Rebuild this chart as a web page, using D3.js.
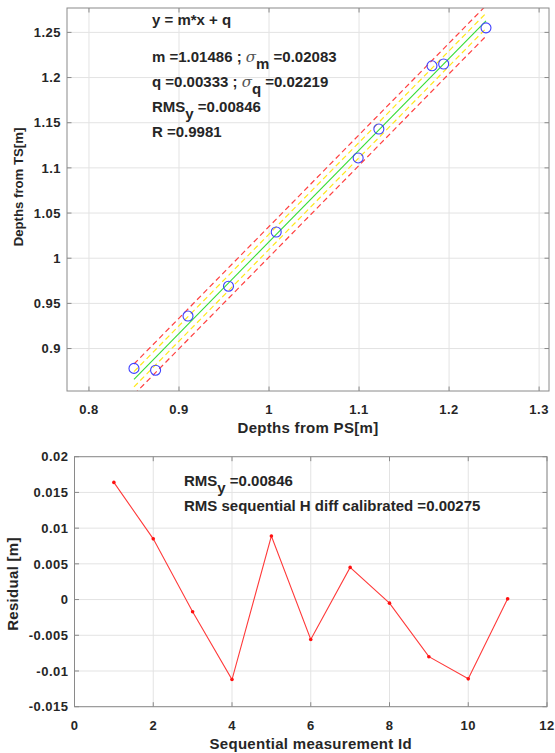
<!DOCTYPE html>
<html><head><meta charset="utf-8">
<script src="https://cdn.jsdelivr.net/npm/d3@7"></script>
<style>body{margin:0;background:#fff}svg{display:block}text{font-family:"Liberation Sans",Arial,sans-serif}</style>
</head><body>
<svg id="c" width="555" height="753"></svg>
<script>
// ---- data ----
const psDepths = [0.850, 0.874, 0.910, 0.955, 1.008, 1.099, 1.122, 1.181, 1.194, 1.241];
const tsDepths = [0.878, 0.876, 0.936, 0.969, 1.029, 1.111, 1.143, 1.213, 1.215, 1.255];
const fitM = 1.01486, fitQ = 0.00333, sigmaM = 0.02083, sigmaQ = 0.02219, rmsY = 0.00846, corrR = 0.9981;
const rmsSeq = 0.00275;
const measId = [1, 2, 3, 4, 5, 6, 7, 8, 9, 10, 11];
const residuals = [0.0164, 0.0085, -0.0017, -0.0112, 0.0089, -0.0056, 0.0045, -0.0005, -0.0080, -0.0111, 0.0001];
const topXTicks = [0.8, 0.9, 1.0, 1.1, 1.2, 1.3];
const topYTicks = [0.9, 0.95, 1.0, 1.05, 1.1, 1.15, 1.2, 1.25];
const botXTicks = [0, 2, 4, 6, 8, 10, 12];
const botYTicks = [-0.015, -0.01, -0.005, 0, 0.005, 0.01, 0.015, 0.02];

const svg = d3.select("#c");
const txtCol = "#262626", axCol = "#8a8a8a", gridCol = "#e3e3e3";
const fs = 13, fsAnn = 15, fsLab = 15;

function drawGrid(g, x, y, xt, yt, clipId) {
  const [x0, x1] = x.range(), [y0, y1] = y.range();
  g.append("g").selectAll("line").data(xt).join("line")
    .attr("x1", d => x(d)).attr("x2", d => x(d)).attr("y1", y0).attr("y2", y1)
    .attr("stroke", gridCol).attr("stroke-width", 1);
  g.append("g").selectAll("line").data(yt).join("line")
    .attr("x1", x0).attr("x2", x1).attr("y1", d => y(d)).attr("y2", d => y(d))
    .attr("stroke", gridCol).attr("stroke-width", 1);
  g.append("clipPath").attr("id", clipId).append("rect")
    .attr("x", x0).attr("y", y1).attr("width", x1 - x0).attr("height", y0 - y1);
}
function drawFrame(g, x, y, xt, yt, fmtX, fmtY) {
  const [x0, x1] = x.range(), [y0, y1] = y.range();
  const tl = 4.5;
  const fr = g.append("g");
  fr.append("rect").attr("x", x0).attr("y", y1).attr("width", x1 - x0).attr("height", y0 - y1)
    .attr("fill", "none").attr("stroke", axCol).attr("stroke-width", 1);
  xt.forEach(d => {
    fr.append("line").attr("x1", x(d)).attr("x2", x(d)).attr("y1", y0).attr("y2", y0 - tl).attr("stroke", axCol);
    fr.append("line").attr("x1", x(d)).attr("x2", x(d)).attr("y1", y1).attr("y2", y1 + tl).attr("stroke", axCol);
  });
  yt.forEach(d => {
    fr.append("line").attr("x1", x0).attr("x2", x0 + tl).attr("y1", y(d)).attr("y2", y(d)).attr("stroke", axCol);
    fr.append("line").attr("x1", x1).attr("x2", x1 - tl).attr("y1", y(d)).attr("y2", y(d)).attr("stroke", axCol);
  });
  g.append("g").selectAll("text").data(xt).join("text")
    .attr("x", d => x(d)).attr("y", y0 + 23).attr("text-anchor", "middle")
    .attr("font-size", fs).attr("letter-spacing", 0.5).attr("font-weight", "bold").attr("fill", txtCol).text(fmtX);
  g.append("g").selectAll("text").data(yt).join("text")
    .attr("x", x0 - 6).attr("y", d => y(d) + 4.7).attr("text-anchor", "end")
    .attr("font-size", fs).attr("letter-spacing", 0.5).attr("font-weight", "bold").attr("fill", txtCol).text(fmtY);
}
const fmt = d => String(+d.toFixed(4));

// ---- top plot ----
const xT = d3.scaleLinear().domain([0.7756, 1.311]).range([67, 549]);
const yT = d3.scaleLinear().domain([0.853, 1.277]).range([391, 8]);
const gT = svg.append("g");
drawGrid(gT, xT, yT, topXTicks, topYTicks, "clipT");
const xMin = d3.min(psDepths), xMax = d3.max(psDepths);
const fitLine = (off) => [[xMin, fitM * xMin + fitQ + off], [xMax, fitM * xMax + fitQ + off]];
const lineT = d3.line().x(d => xT(d[0])).y(d => yT(d[1]));
const pl = gT.append("g").attr("clip-path", "url(#clipT)");
[[2, "#ff4040"], [-2, "#ff4040"], [1, "#ffe81a"], [-1, "#ffe81a"]].forEach(([k, c]) => {
  pl.append("path").attr("d", lineT(fitLine(k * rmsY))).attr("fill", "none")
    .attr("stroke", c).attr("stroke-width", 1.2).attr("stroke-dasharray", "5.5,3.5");
});
pl.append("path").attr("d", lineT(fitLine(0))).attr("fill", "none").attr("stroke", "#33dd33").attr("stroke-width", 1.1);
pl.selectAll("circle").data(psDepths).join("circle")
  .attr("cx", d => xT(d)).attr("cy", (d, i) => yT(tsDepths[i])).attr("r", 5)
  .attr("fill", "none").attr("stroke", "#3f3fff").attr("stroke-width", 1.1);
drawFrame(gT, xT, yT, topXTicks, topYTicks, fmt, fmt);

// annotations
function label(g, x, y, parts) {
  const t = g.append("text").attr("x", x).attr("y", y).attr("font-size", fsAnn).attr("font-weight", "bold").attr("fill", txtCol);
  parts.forEach(p => {
    const s = t.append("tspan").text(p.t);
    if (p.sub) s.attr("dy", 7);
    if (p.up) s.attr("dy", -7);
    if (p.it) s.attr("font-style", "italic").attr("font-weight", "normal").attr("font-family", "DejaVu Serif, serif").attr("fill", "#555");
  });
}
const ax = 152;
label(gT, ax, 25, [{t: "y = m*x + q"}]);
label(gT, ax, 62, [{t: "m =" + fitM.toFixed(5) + " ; "}, {t: "σ", it: true}, {t: "m", sub: true}, {t: " =" + sigmaM.toFixed(5), up: true}]);
label(gT, ax, 87, [{t: "q =" + fitQ.toFixed(5) + " ; "}, {t: "σ", it: true}, {t: "q", sub: true}, {t: " =" + sigmaQ.toFixed(5), up: true}]);
label(gT, ax, 112, [{t: "RMS"}, {t: "y", sub: true}, {t: " =" + rmsY.toFixed(5), up: true}]);
label(gT, ax, 137, [{t: "R =" + corrR}]);
gT.append("text").attr("x", d3.mean(xT.range())).attr("y", 433).attr("text-anchor", "middle")
  .attr("font-size", fsLab).attr("letter-spacing", 0.3).attr("font-weight", "bold").attr("fill", txtCol).text("Depths from PS[m]");
gT.append("text").attr("transform", "translate(22.5,187) rotate(-90)").attr("text-anchor", "middle")
  .attr("font-size", 13.2).attr("font-weight", "bold").attr("fill", txtCol).text("Depths from TS[m]");

// ---- bottom plot ----
const xB = d3.scaleLinear().domain([0, 12]).range([74.5, 547]);
const yB = d3.scaleLinear().domain([-0.015, 0.02]).range([706.7, 456.7]);
const gB = svg.append("g");
drawGrid(gB, xB, yB, botXTicks, botYTicks, "clipB");
const pb = gB.append("g").attr("clip-path", "url(#clipB)");
pb.append("path").datum(measId).attr("d", d3.line().x(d => xB(d)).y((d, i) => yB(residuals[i])))
  .attr("fill", "none").attr("stroke", "#ff3a3a").attr("stroke-width", 1.1);
pb.selectAll("circle").data(measId).join("circle")
  .attr("cx", d => xB(d)).attr("cy", (d, i) => yB(residuals[i])).attr("r", 1.8).attr("fill", "#ff1010");
drawFrame(gB, xB, yB, botXTicks, botYTicks, fmt, fmt);
label(gB, 184, 486, [{t: "RMS"}, {t: "y", sub: true}, {t: " =" + rmsY.toFixed(5), up: true}]);
label(gB, 184, 511, [{t: "RMS sequential H diff calibrated =" + rmsSeq.toFixed(5)}]);
gB.append("text").attr("x", d3.mean(xB.range())).attr("y", 749).attr("text-anchor", "middle")
  .attr("font-size", fsLab).attr("letter-spacing", 0.3).attr("font-weight", "bold").attr("fill", txtCol).text("Sequential measurement Id");
gB.append("text").attr("transform", "translate(18,584) rotate(-90)").attr("text-anchor", "middle")
  .attr("font-size", fsLab).attr("letter-spacing", 0.3).attr("font-weight", "bold").attr("fill", txtCol).text("Residual [m]");
</script>
</body></html>
